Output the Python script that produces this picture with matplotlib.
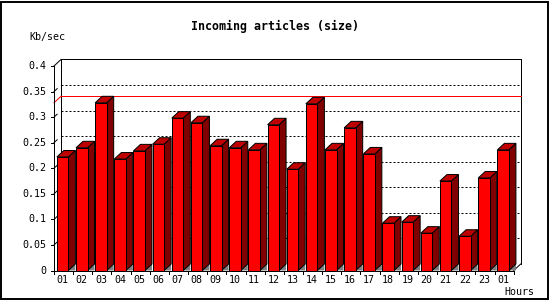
import matplotlib
matplotlib.use("Agg")
import matplotlib.pyplot as plt
from matplotlib.patches import Polygon, Rectangle
import numpy as np

# ---- data ----
hours = ['01', '02', '03', '04', '05', '06', '07', '08', '09', '10', '11', '12',
         '13', '14', '15', '16', '17', '18', '19', '20', '21', '22', '23', '01']
values = [0.222, 0.240, 0.328, 0.218, 0.234, 0.247, 0.298, 0.289, 0.244, 0.240,
          0.236, 0.285, 0.198, 0.326, 0.236, 0.279, 0.228, 0.0925, 0.0945, 0.073,
          0.175, 0.067, 0.181, 0.236]
y_ticks = [0.0, 0.05, 0.1, 0.15, 0.2, 0.25, 0.3, 0.35, 0.4]
y_tick_labels = ['0', '0.05', '0.1', '0.15', '0.2', '0.25', '0.3', '0.35', '0.4']
title = 'Incoming articles (size)'
y_label = 'Kb/sec'
x_label = 'Hours'

# ---- figure / axes geometry (pixels) ----
W, H = 550, 300
fig = plt.figure(figsize=(W / 100, H / 100), dpi=100)
ax_left, ax_right, ax_bottom, ax_top = 54.0, 513.7, 270.5, 66.0
ax = fig.add_axes([ax_left / W, (H - ax_bottom) / H,
                   (ax_right - ax_left) / W, (ax_bottom - ax_top) / H])
n = len(values)
ymax = 0.4
ax.set_xlim(0, n)
ax.set_ylim(0, ymax)
ax.axis('off')

xppu = (ax_right - ax_left) / n          # pixels per category
yppu = (ax_bottom - ax_top) / ymax       # pixels per value unit
dx = 7.0 / xppu                          # depth offset (x)
dy = 6.5 / yppu                          # depth offset (y)
lw = 0.72                                # 1 pixel

RED = '#ff0000'
SIDE = '#800000'
TOP = '#c00000'
FLOOR = '#808080'

mono = 'DejaVu Sans Mono'

# ---- back plane ----
ax.plot([dx, n + dx], [ymax + dy, ymax + dy], color='black', lw=lw, clip_on=False, zorder=2)
ax.plot([n + dx, n + dx], [dy, ymax + dy], color='black', lw=lw, clip_on=False, zorder=2)
ax.plot([dx, dx], [dy, ymax + dy], color='black', lw=lw, clip_on=False, zorder=2)
# corner diagonals
ax.plot([0, dx], [ymax, ymax + dy], color='black', lw=lw, clip_on=False, zorder=2)
ax.plot([n, n + dx], [0, dy], color='black', lw=lw, clip_on=False, zorder=2)

# dotted grid lines on back wall
for t in y_ticks[1:-1]:
    ax.plot([dx, n + dx], [t + dy, t + dy], color='black', lw=lw,
            linestyle=(0, (2, 2)), clip_on=False, zorder=1)
    ax.plot([0, dx * 0.45], [t, t + dy * 0.45], color='black', lw=lw,
            clip_on=False, zorder=2)

# red max line
vmax = max(values)
ax.plot([dx, n + dx], [vmax + dy, vmax + dy], color=RED, lw=lw, clip_on=False, zorder=2.5)
ax.plot([0, dx], [vmax, vmax + dy], color=RED, lw=lw, clip_on=False, zorder=2.5)

# ---- bars ----
off = 0.15
bw = 0.60
for i, v in enumerate(values):
    x0 = i + off
    x1 = x0 + bw
    z = 3 + i * 0.01
    floor = Polygon([(x1, 0), (x1 + dx, dy), (x1 + dx, 0)], closed=True,
                    facecolor=FLOOR, edgecolor='none', clip_on=False, zorder=z)
    side = Polygon([(x1, 0), (x1 + dx, dy), (x1 + dx, v + dy), (x1, v)], closed=True,
                   facecolor=SIDE, edgecolor='black', lw=lw, clip_on=False, zorder=z)
    top = Polygon([(x0, v), (x0 + dx, v + dy), (x1 + dx, v + dy), (x1, v)], closed=True,
                  facecolor=TOP, edgecolor='black', lw=lw, clip_on=False, zorder=z)
    ax.add_patch(floor)
    ax.add_patch(side)
    ax.add_patch(top)
    ax.bar(x0, v, width=bw, align='edge', color=RED, edgecolor='black',
           linewidth=lw, clip_on=False, zorder=z + 0.001)

# ---- front axes ----
ax.plot([0, 0], [0, ymax], color='black', lw=lw, clip_on=False, zorder=6)
ax.plot([0, n], [0, 0], color='black', lw=lw, clip_on=False, zorder=6)

# y ticks + labels
for t, lab in zip(y_ticks, y_tick_labels):
    ax.plot([-3.5 / xppu, 0], [t, t], color='black', lw=lw, clip_on=False, zorder=6)
    ax.text(-8.0 / xppu, t, lab, ha='right', va='center', fontsize=7.2,
            family=mono, color='black')

# x ticks + labels
for i in range(n + 1):
    ax.plot([i, i], [0, -3.5 / yppu], color='black', lw=lw, clip_on=False, zorder=6)
for i, lab in enumerate(hours):
    ax.text(i + 0.5 - 0.05, -9.5 / yppu, lab, ha='center', va='center',
            fontsize=7.2, family=mono, color='black')

# ---- texts ----
fig.text(275 / W, 1 - 26.7 / H, title, ha='center', va='center', fontsize=8.4,
         family=mono, fontweight='bold', color='black')
fig.text(29 / W, 1 - 36.7 / H, y_label, ha='left', va='center', fontsize=7.2,
         family=mono, color='black')
fig.text(534 / W, 1 - 292 / H, x_label, ha='right', va='center', fontsize=7.2,
         family=mono, color='black')

# outer border
fig.patches.append(Rectangle((1.0 / W, 1.0 / H), (W - 3.0) / W, (H - 3.0) / H,
                             transform=fig.transFigure, fill=False,
                             edgecolor='black', linewidth=1.4))

fig.savefig('out.png', dpi=100, facecolor='white')
